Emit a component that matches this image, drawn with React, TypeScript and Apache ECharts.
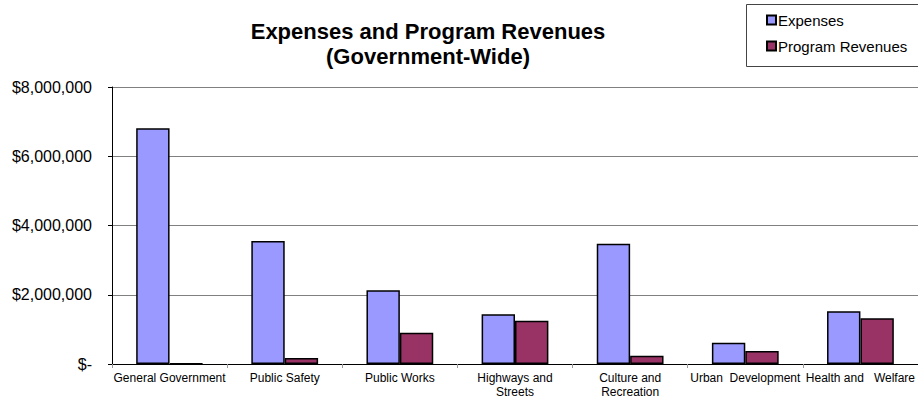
import React, { useEffect, useRef } from "react";
import * as echarts from "echarts";

const categories = [
  "General Government",
  "Public Safety",
  "Public Works",
  "Highways and\nStreets",
  "Culture and\nRecreation",
  "Urban  Development",
  "Health and   Welfare",
];
const expenses = [6810000, 3550000, 2130000, 1440000, 3470000, 615000, 1520000];
const programRevenues = [20000, 170000, 900000, 1250000, 240000, 375000, 1320000];
const yTicks = { min: 0, max: 8000000, interval: 2000000 };

const FONT = "'Liberation Sans', Arial, sans-serif";

export default function App() {
  const ref = useRef<HTMLDivElement>(null);
  useEffect(() => {
    if (!ref.current) return;
    const chart = echarts.init(ref.current, null, { renderer: "svg" });
    const barBorder = { borderColor: "#000", borderWidth: 1.5 };
    chart.setOption({
      animation: false,
      backgroundColor: "#fff",
      title: {
        text: "Expenses and Program Revenues\n(Government-Wide)",
        left: 423,
        textAlign: "center",
        top: 14,
        textStyle: { fontFamily: FONT, fontSize: 22, fontWeight: "bold", color: "#000", lineHeight: 25 },
      },
      legend: {
        orient: "vertical",
        left: 761,
        top: 7,
        itemWidth: 9,
        itemHeight: 9,
        itemGap: 10,
        icon: "rect",
        textStyle: { fontFamily: FONT, fontSize: 15, color: "#000", padding: [0, 0, 0, -3], lineHeight: 16 },
        data: ["Expenses", "Program Revenues"],
      },
      graphic: [
        {
          type: "rect",
          shape: { x: 746.5, y: 4.5, width: 180, height: 62 },
          style: { fill: "none", stroke: "#444", lineWidth: 1 },
          z: 100,
        },
      ],
      grid: { left: 112, right: -2, top: 87, bottom: 36, containLabel: false },
      xAxis: {
        type: "category",
        data: categories,
        axisLine: { lineStyle: { color: "#000", width: 1 } },
        axisTick: { show: true, length: 4, lineStyle: { color: "#999" } },
        axisLabel: {
          interval: 0,
          fontFamily: FONT,
          fontSize: 12,
          color: "#000",
          lineHeight: 14,
          margin: 7,
        },
      },
      yAxis: {
        type: "value",
        min: yTicks.min,
        max: yTicks.max,
        interval: yTicks.interval,
        axisLine: { show: true, lineStyle: { color: "#000", width: 1 } },
        axisTick: { show: true, length: 4, lineStyle: { color: "#000" } },
        splitLine: { lineStyle: { color: "#808080", width: 1 } },
        axisLabel: {
          fontFamily: FONT,
          fontSize: 16,
          color: "#000",
          margin: 20,
          formatter: (v: number) => (v === 0 ? "$-" : "$" + v.toLocaleString("en-US")),
        },
      },
      series: [
        {
          name: "Expenses",
          type: "bar",
          data: expenses,
          barGap: "0%",
          barCategoryGap: "42%",
          itemStyle: { color: "#9999FF", ...barBorder },
        },
        {
          name: "Program Revenues",
          type: "bar",
          data: programRevenues,
          itemStyle: { color: "#993366", ...barBorder },
        },
      ],
    });
    return () => chart.dispose();
  }, []);
  return <div ref={ref} style={{ width: 918, height: 400, position: "fixed", left: 0, top: 0 }} />;
}
